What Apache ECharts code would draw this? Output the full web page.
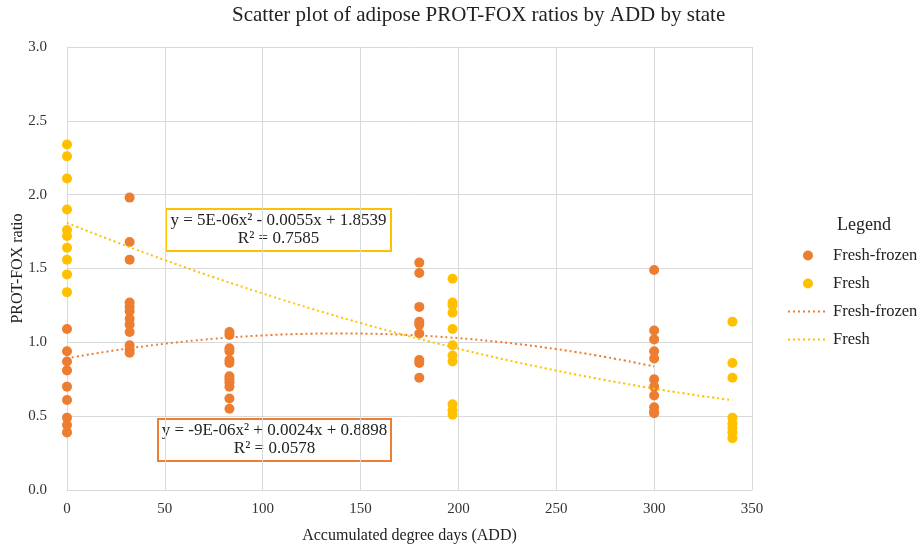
<!DOCTYPE html>
<html>
<head>
<meta charset="utf-8">
<script src="https://cdn.jsdelivr.net/npm/echarts@6/dist/echarts.min.js"></script>
<style>
  html, body { margin: 0; padding: 0; background: #fff; }
  #main { width: 920px; height: 550px; }
</style>
</head>
<body>
<div id="main"></div>
<script>
// Fresh-frozen samples (orange)
var frozenX = [0,0,0,0,0,0,0,0,0,
    32,32,32,32,32,32,32,32,32,32,32,32,
    83,83,83,83,83,83,83,83,83,83,83,83,
    180,180,180,180,180,180,180,180,180,
    300,300,300,300,300,300,300,300,300,300,300];
var frozenY = [1.09,0.94,0.87,0.81,0.70,0.61,0.49,0.44,0.39,
    1.98,1.68,1.56,1.27,1.24,1.21,1.16,1.12,1.07,0.98,0.95,0.93,
    1.07,1.05,0.96,0.94,0.88,0.86,0.77,0.75,0.73,0.70,0.62,0.55,
    1.54,1.47,1.24,1.14,1.12,1.06,0.88,0.86,0.76,
    1.49,1.08,1.02,0.94,0.89,0.75,0.70,0.64,0.56,0.53,0.52];

// Fresh samples (yellow)
var freshX = [0,0,0,0,0,0,0,0,0,0,
    197,197,197,197,197,197,197,197,197,197,197,
    340,340,340,340,340,340,340,340];
var freshY = [2.34,2.26,2.11,1.90,1.76,1.72,1.64,1.56,1.46,1.34,
    1.43,1.27,1.25,1.20,1.09,0.98,0.91,0.87,0.58,0.54,0.51,
    1.14,0.86,0.76,0.49,0.45,0.42,0.39,0.35];

var xTicks = [0, 50, 100, 150, 200, 250, 300, 350];

var frozenLabel = ['y = -9E-06x\u00b2 + 0.0024x + 0.8898', 'R\u00b2 = 0.0578'];
var freshLabel = ['y = 5E-06x\u00b2 - 0.0055x + 1.8539', 'R\u00b2 = 0.7585'];

var ORANGE = '#ED7D31';
var YELLOW = '#FFC000';
var FONT = '"Liberation Serif", "Times New Roman", serif';

function pairs(xs, ys) {
    return xs.map(function (x, i) { return [x, ys[i]]; });
}

// least squares quadratic fit, like the Excel trendline
function polyFit(xs, ys) {
    var s = [0,0,0,0,0], t = [0,0,0];
    for (var i = 0; i < xs.length; i++) {
        var p = 1;
        for (var k = 0; k < 5; k++) { s[k] += p; if (k < 3) t[k] += p * ys[i]; p *= xs[i]; }
    }
    var m = [[s[0],s[1],s[2],t[0]],[s[1],s[2],s[3],t[1]],[s[2],s[3],s[4],t[2]]];
    for (var c = 0; c < 3; c++) {
        for (var r = c + 1; r < 3; r++) {
            var f = m[r][c] / m[c][c];
            for (var j = c; j < 4; j++) m[r][j] -= f * m[c][j];
        }
    }
    var b = [0,0,0];
    for (var r2 = 2; r2 >= 0; r2--) {
        var v = m[r2][3];
        for (var j2 = r2 + 1; j2 < 3; j2++) v -= m[r2][j2] * b[j2];
        b[r2] = v / m[r2][r2];
    }
    return b;
}

function trend(xs, ys) {
    var b = polyFit(xs, ys);
    var lo = Math.min.apply(null, xs), hi = Math.max.apply(null, xs);
    var out = [];
    for (var x = lo; x <= hi; x += 5) out.push([x, b[0] + b[1] * x + b[2] * x * x]);
    if (out[out.length - 1][0] !== hi) out.push([hi, b[0] + b[1] * hi + b[2] * hi * hi]);
    return out;
}

function labelBox(lines, left, top, w, color) {
    return {
        type: 'group', left: left, top: top,
        children: [
            { type: 'rect', shape: { x: 0, y: 0, width: w, height: 42 },
              style: { fill: '#fff', stroke: color, lineWidth: 2 } },
            { type: 'text', x: w / 2, y: 3,
              style: { text: lines.join('\n'), fill: '#222', font: '17px ' + FONT,
                       align: 'center', verticalAlign: 'top', lineHeight: 18 } }
        ]
    };
}

var myChart = echarts.init(document.getElementById('main'));
var option = {
    animation: false,
    grid: { left: 67, right: 168, top: 47, bottom: 60, containLabel: false, outerBoundsMode: 'none' },
    textStyle: { fontFamily: FONT },
    graphic: [
        { type: 'text', left: 232, top: 5,
          style: { text: 'Scatter plot of adipose PROT-FOX ratios by ADD by state',
                   fill: '#222', font: '21px ' + FONT } },
        { type: 'text', left: 837, top: 216,
          style: { text: 'Legend', fill: '#222', font: '18px ' + FONT } },
        labelBox(freshLabel, 165, 208, 225, YELLOW),
        labelBox(frozenLabel, 157, 418, 233, ORANGE)
    ],
    legend: {
        orient: 'vertical', left: 782, top: 242,
        itemWidth: 40, itemHeight: 10, itemGap: 11,
        textStyle: { fontFamily: FONT, fontSize: 16.5, color: '#222', lineHeight: 16 },
        formatter: function (n) { return n.replace(' trend', ''); },
        data: ['Fresh-frozen', 'Fresh',
            { name: 'Fresh-frozen trend', itemStyle: { color: 'transparent', borderWidth: 0 } },
            { name: 'Fresh trend', itemStyle: { color: 'transparent', borderWidth: 0 } }]
    },
    xAxis: {
        type: 'value', min: 0, max: 350, interval: 50,
        name: 'Accumulated degree days (ADD)', nameLocation: 'middle', nameGap: 38,
        nameTextStyle: { fontFamily: FONT, fontSize: 16, color: '#222' },
        axisLine: { show: true, lineStyle: { color: '#d9d9d9' } },
        axisTick: { show: false },
        axisLabel: { fontFamily: FONT, fontSize: 15, color: '#333', margin: 12,
                     customValues: xTicks },
        splitLine: { lineStyle: { color: '#d9d9d9' } }
    },
    yAxis: {
        type: 'value', min: 0, max: 3, interval: 0.5,
        name: 'PROT-FOX ratio', nameLocation: 'middle', nameGap: 41, nameRotate: 90,
        nameMoveOverlap: false,
        nameTextStyle: { fontFamily: FONT, fontSize: 16, color: '#222' },
        axisLine: { show: false },
        axisTick: { show: false },
        axisLabel: { fontFamily: FONT, fontSize: 15, color: '#333', margin: 20,
                     formatter: function (v) { return v.toFixed(1); } },
        splitLine: { lineStyle: { color: '#d9d9d9' } }
    },
    series: [
        { name: 'Fresh-frozen', type: 'scatter', symbolSize: 10,
          itemStyle: { color: ORANGE, opacity: 1 }, data: pairs(frozenX, frozenY), z: 3 },
        { name: 'Fresh', type: 'scatter', symbolSize: 10,
          itemStyle: { color: YELLOW, opacity: 1 }, data: pairs(freshX, freshY), z: 3 },
        { name: 'Fresh-frozen trend', type: 'line', symbol: 'none', smooth: true,
          lineStyle: { color: ORANGE, width: 2, type: [2, 3] }, itemStyle: { color: ORANGE },
          data: trend(frozenX, frozenY), z: 4 },
        { name: 'Fresh trend', type: 'line', symbol: 'none', smooth: true,
          lineStyle: { color: YELLOW, width: 2, type: [2, 3] }, itemStyle: { color: YELLOW },
          data: trend(freshX, freshY), z: 4 }
    ]
};
myChart.setOption(option);
</script>
</body>
</html>
